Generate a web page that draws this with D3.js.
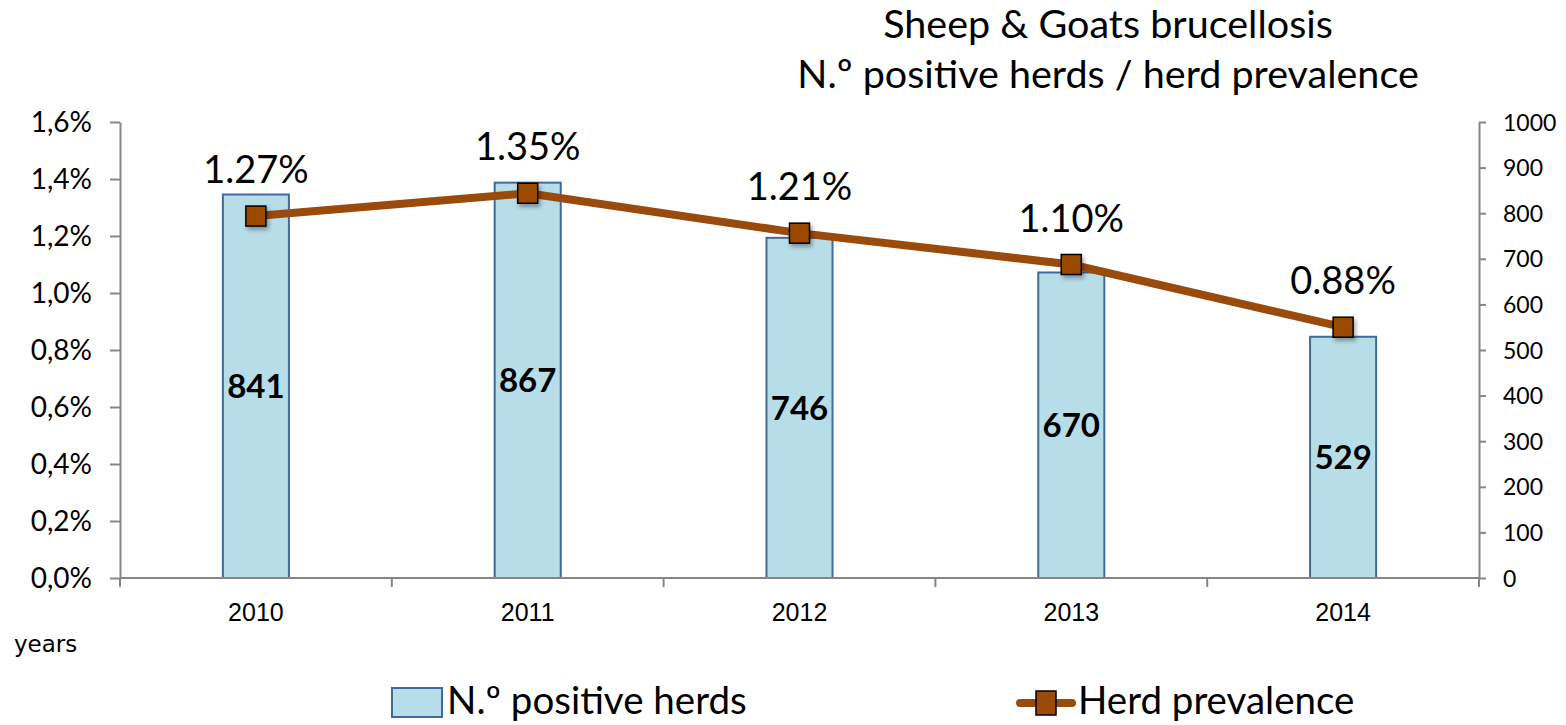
<!DOCTYPE html>
<html>
<head>
<meta charset="utf-8">
<script src="https://cdn.jsdelivr.net/npm/d3@7"></script>
<style>
  body { margin: 0; background: #fff; }
  svg text { font-family: Lato, "Open Sans", sans-serif; fill: #000; }
</style>
</head>
<body>
<div id="chart"></div>
<script>
// data
const years = ['2010', '2011', '2012', '2013', '2014'];
const positiveHerds = [841, 867, 746, 670, 529];
const prevalence = [0.0127, 0.0135, 0.0121, 0.0110, 0.0088];
const prevalenceLabels = ['1.27%', '1.35%', '1.21%', '1.10%', '0.88%'];
const leftTicks = [0, 0.002, 0.004, 0.006, 0.008, 0.010, 0.012, 0.014, 0.016];
const rightTicks = [0, 100, 200, 300, 400, 500, 600, 700, 800, 900, 1000];

const W = 1566, H = 725;
const m = {left: 120, right: 1479, top: 122, bottom: 578};

const svg = d3.select('#chart')
    .append('svg')
        .attr('width', W)
        .attr('height', H);

// soft shadow like the office chart
const defs = svg.append('defs');
const f = defs.append('filter').attr('id', 'shadow')
    .attr('x', '-50%').attr('y', '-50%').attr('width', '200%').attr('height', '200%');
f.append('feDropShadow').attr('dx', 2).attr('dy', 3).attr('stdDeviation', 2)
    .attr('flood-color', '#000').attr('flood-opacity', 0.35);

const x = d3.scaleBand()
    .domain(years)
    .range([m.left, m.right])
    .paddingInner(0.757)
    .paddingOuter(0.3785);

const yLeft = d3.scaleLinear().domain([0, 0.016]).range([m.bottom, m.top]);
const yRight = d3.scaleLinear().domain([0, 1000]).range([m.bottom, m.top]);

const comma = d3.formatLocale({decimal: ',', thousands: '.', grouping: [3], currency: ['', '']});

// left axis
const gl = svg.append('g')
    .attr('transform', `translate(${m.left},0)`)
    .call(d3.axisLeft(yLeft).tickValues(leftTicks).tickFormat(comma.format('.1%'))
        .tickSize(10).tickSizeOuter(0).tickPadding(18));
gl.selectAll('text').style('font-size', '28px').attr('dy', '0.35em');

// right axis
const gr = svg.append('g')
    .attr('transform', `translate(${m.right},0)`)
    .call(d3.axisRight(yRight).tickValues(rightTicks).tickFormat(d3.format('d'))
        .tickSize(7).tickSizeOuter(0).tickPadding(17));
gr.selectAll('text').style('font-size', '23px').attr('dy', '0.35em');

[gl, gr].forEach(g => {
    g.select('.domain').attr('stroke', '#868686').attr('stroke-width', 2);
    g.selectAll('.tick line').attr('stroke', '#868686').attr('stroke-width', 2);
});

// bars
svg.selectAll('rect.bar')
    .data(positiveHerds)
    .enter()
    .append('rect')
        .attr('class', 'bar')
        .attr('x', (d, i) => x(years[i]))
        .attr('y', d => yRight(d))
        .attr('width', x.bandwidth())
        .attr('height', d => yRight(0) - yRight(d))
        .attr('fill', '#b7dde8')
        .attr('stroke', '#41699b')
        .attr('stroke-width', 2);

// x axis (category boundaries like excel)
const step = x.step();
const bounds = d3.range(years.length + 1).map(i => m.left + i * step);
svg.append('line')
    .attr('x1', m.left).attr('x2', m.right)
    .attr('y1', m.bottom).attr('y2', m.bottom)
    .attr('stroke', '#868686').attr('stroke-width', 2);
svg.selectAll('line.xtick')
    .data(bounds)
    .enter()
    .append('line')
        .attr('class', 'xtick')
        .attr('x1', d => d).attr('x2', d => d)
        .attr('y1', m.bottom).attr('y2', m.bottom + 9)
        .attr('stroke', '#868686').attr('stroke-width', 2);
svg.selectAll('text.year')
    .data(years)
    .enter()
    .append('text')
        .attr('class', 'year')
        .attr('x', d => x(d) + x.bandwidth() / 2)
        .attr('y', 621)
        .attr('text-anchor', 'middle')
        .style('font-family', '"Liberation Sans Narrow", "Liberation Sans", sans-serif')
        .style('font-size', '25px')
        .text(d => d);

svg.append('text')
    .attr('x', 14).attr('y', 652)
    .style('font-family', '"DejaVu Sans", sans-serif')
    .style('font-size', '23px')
    .text('years');

// bar value labels
svg.selectAll('text.val')
    .data(positiveHerds)
    .enter()
    .append('text')
        .attr('class', 'val')
        .attr('x', (d, i) => x(years[i]) + x.bandwidth() / 2)
        .attr('y', d => (yRight(d) + yRight(0)) / 2)
        .attr('dy', '0.36em')
        .attr('text-anchor', 'middle')
        .style('font-size', '33px')
        .style('font-weight', 'bold')
        .text(d => d);

// prevalence line
const line = d3.line()
    .x((d, i) => x(years[i]) + x.bandwidth() / 2)
    .y(d => yLeft(d));
svg.append('path')
    .datum(prevalence)
    .attr('d', line)
    .attr('fill', 'none')
    .attr('stroke', '#9a4a0a')
    .attr('stroke-width', 8)
    .attr('stroke-linejoin', 'round');

svg.selectAll('rect.marker')
    .data(prevalence)
    .enter()
    .append('rect')
        .attr('class', 'marker')
        .attr('x', (d, i) => x(years[i]) + x.bandwidth() / 2 - 10)
        .attr('y', d => yLeft(d) - 10)
        .attr('width', 20).attr('height', 20)
        .attr('fill', '#9c4a06')
        .attr('stroke', '#000').attr('stroke-width', 1.5)
        .attr('filter', 'url(#shadow)');

svg.selectAll('text.pct')
    .data(prevalence)
    .enter()
    .append('text')
        .attr('class', 'pct')
        .attr('x', (d, i) => x(years[i]) + x.bandwidth() / 2)
        .attr('y', d => yLeft(d) - 33)
        .attr('text-anchor', 'middle')
        .style('font-size', '38px')
        .text((d, i) => prevalenceLabels[i]);

// title
const title = svg.append('text').attr('text-anchor', 'middle').style('font-size', '39.5px');
title.append('tspan').attr('x', 1108).attr('y', 38).text('Sheep & Goats brucellosis');
title.append('tspan').attr('x', 1108).attr('y', 88).text('N.º positive herds / herd prevalence');

// legend
const leg = svg.append('g');
leg.append('rect')
    .attr('x', 392).attr('y', 688).attr('width', 50).attr('height', 29)
    .attr('fill', '#b7dde8').attr('stroke', '#41699b').attr('stroke-width', 2);
leg.append('text').attr('x', 447).attr('y', 714).style('font-size', '38.5px').text('N.º positive herds');
leg.append('line')
    .attr('x1', 1020).attr('x2', 1072).attr('y1', 703).attr('y2', 703)
    .attr('stroke', '#9a4a0a').attr('stroke-width', 8).attr('stroke-linecap', 'round');
leg.append('rect')
    .attr('x', 1036).attr('y', 691).attr('width', 20).attr('height', 24)
    .attr('fill', '#9c4a06').attr('stroke', '#000').attr('stroke-width', 1.5);
leg.append('text').attr('x', 1078).attr('y', 714).style('font-size', '38.5px').text('Herd prevalence');
</script>
</body>
</html>
